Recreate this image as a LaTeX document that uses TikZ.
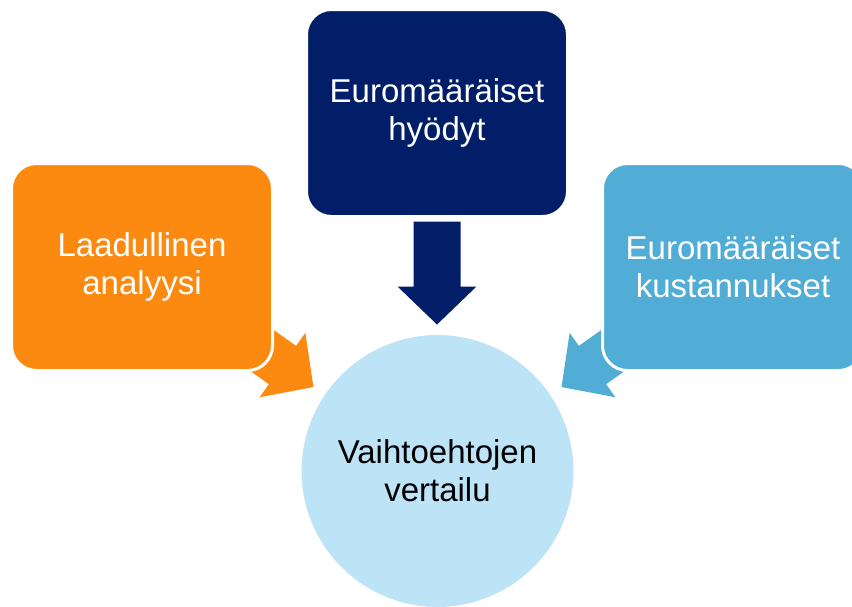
\documentclass[tikz,border=0pt]{standalone}
\usepackage{fontspec}
\setmainfont{Liberation Sans}
\usetikzlibrary{calc}

\definecolor{boxorange}{HTML}{FD8A10}
\definecolor{boxnavy}{HTML}{021E68}
\definecolor{boxsky}{HTML}{52ADD6}
\definecolor{discblue}{HTML}{BDE3F7}

\pgfdeclarelayer{background}
\pgfsetlayers{background,main}

\tikzset{
  panel/.style={rectangle, rounded corners=25pt, draw=white, line width=3pt,
    minimum width=261pt, minimum height=207pt, inner sep=0pt,
    text=white, align=center, font=\fontsize{33}{38}\selectfont},
  disc/.style={circle, fill=discblue, draw=white, line width=3pt,
    minimum size=275pt, inner sep=0pt,
    text=black, align=center, font=\fontsize{33}{38}\selectfont},
}

% block arrow: colour, start point (middle of the shaft end), direction angle
\newcommand\bigarrow[3]{%
  \fill[#1, shift={(#2)}, rotate=#3]
    (0,-23.5) -- (65,-23.5) -- (65,-39.5) -- (103,0) -- (65,39.5)
    -- (65,23.5) -- (0,23.5) -- cycle;}

\begin{document}
\begin{tikzpicture}[x=1pt, y=-1pt]
  \clip (0,0) rectangle (852,606);

  % the three sources and the comparison disc
  \node[panel, fill=boxnavy]   (hy) at (437,113) {Euromääräiset\\hyödyt};
  \node[panel, fill=boxorange] (la) at (142,267) {Laadullinen\\analyysi};
  \node[panel, fill=boxsky]    (ku) at (733,267) {Euromääräiset\\kustannukset};
  \node[disc] (ve) at (437.5,471) {Vaihtoehtojen\\vertailu};

  % arrows start behind the boxes and point at the disc
  \coordinate (hyout) at ($(hy.south)+(0,3.5)$);
  \coordinate (laout) at ($(la.center)+(87.5,60.4)$);
  \coordinate (kuout) at ($(ku.center)+(-87.5,60.4)$);

  \begin{pgfonlayer}{background}
    \bigarrow{boxnavy}{hyout}{-90}
    \bigarrow{boxorange}{laout}{-35.4}
    \bigarrow{boxsky}{kuout}{-144.6}
  \end{pgfonlayer}
\end{tikzpicture}
\end{document}
